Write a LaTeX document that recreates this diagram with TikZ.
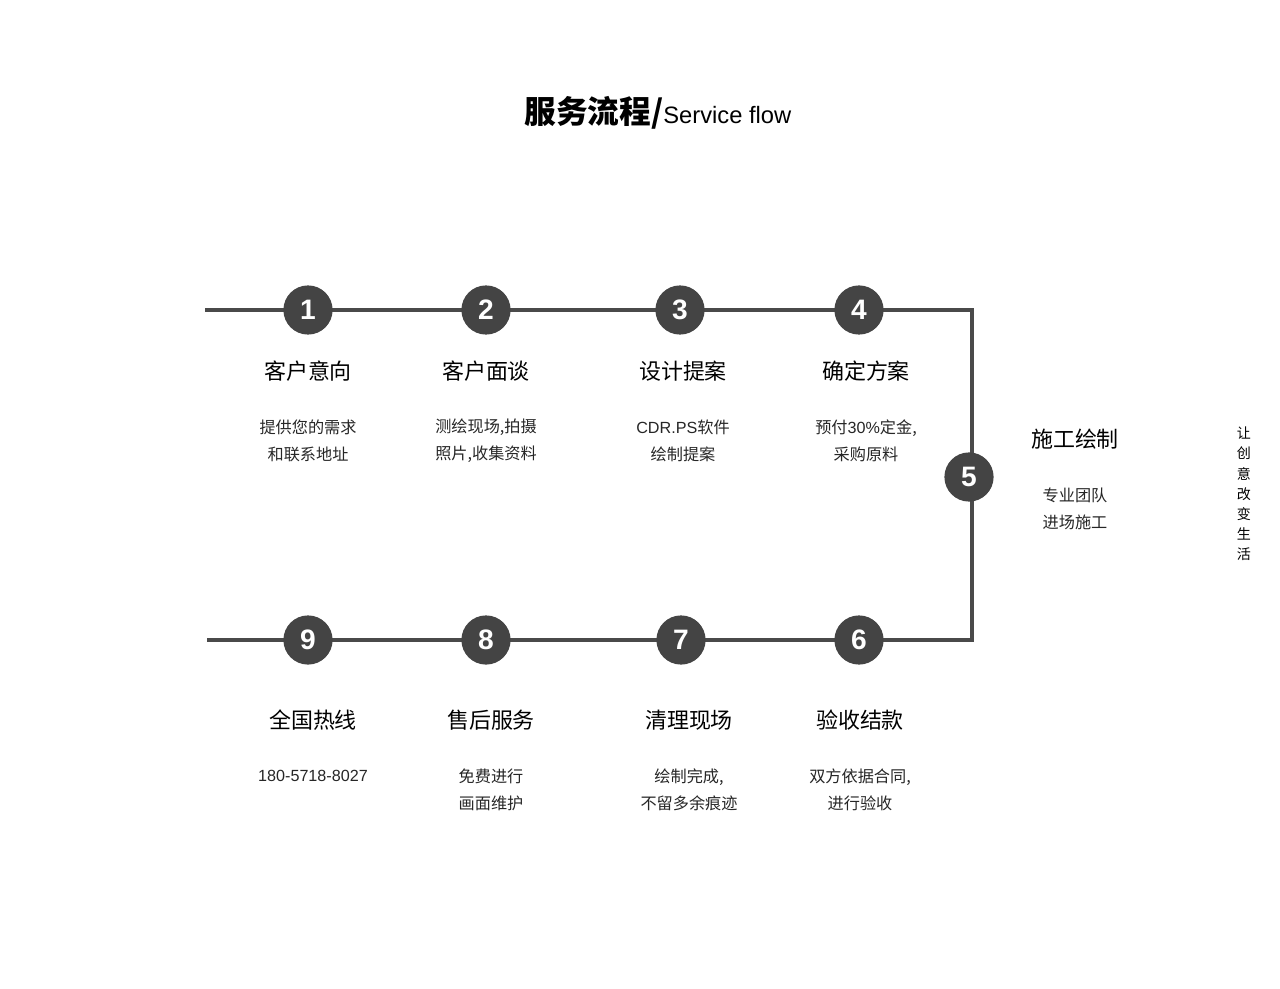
\documentclass[tikz,border=0pt]{standalone}
\usepackage{fontspec}
\setmainfont{Noto Sans CJK SC}
\newfontfamily\latinsans{Liberation Sans}
\usetikzlibrary{positioning}
\definecolor{flowgray}{HTML}{4A4A4A}
\definecolor{dotgray}{HTML}{444444}
\tikzset{
  flowstep/.style={circle, fill=dotgray, minimum size=28pt, inner sep=0pt,
    text=white, font=\latinsans\bfseries\fontsize{16}{16}\selectfont},
  steptitle/.style={font=\fontsize{12.5}{14}\selectfont, text=black},
  stepnote/.style={font=\fontsize{9.2}{15.6}\selectfont, text=black!85, align=center},
  flowline/.style={draw=flowgray, line width=2.3pt}
}
\begin{document}
\begin{tikzpicture}[x=0.02cm, y=-0.02cm]
\useasboundingbox (0,0) rectangle (1280,989);

%Title
\node (title) at (658,113) {\bfseries\fontsize{18}{20}\selectfont 服务流程/\mdseries\latinsans\fontsize{13.5}{16}\selectfont Service flow};

%Flow path
\coordinate (topstart) at (205,310);
\coordinate (topcorner) at (972,310);
\coordinate (botcorner) at (972,640);
\coordinate (botstart) at (207,640);
\draw [flowline] (topstart) -- (topcorner) -- (botcorner) -- (botstart);

%Steps
\foreach \n/\x/\y in {1/308/310,2/486/310,3/680/310,4/859/310,5/969/477,6/859/640,7/681/640,8/486/640,9/308/640}
  \node [flowstep] (s\n) at (\x,\y) {\n};

%Step titles
\foreach \n/\x/\y/\t in {1/308/371/客户意向,2/486/371/客户面谈,3/683/371/设计提案,4/866/371/确定方案,
  5/1075/439/施工绘制,6/860/720/验收结款,7/689/720/清理现场,8/491/720/售后服务,9/313/720/全国热线}
  \node [steptitle] (t\n) at (\x,\y) {\t};

%Step notes
\node [stepnote] (n1) at (308,441) {提供您的需求\\和联系地址};
\node [stepnote] (n2) at (486,441) {测绘现场,拍摄\\照片,收集资料};
\node [stepnote] (n3) at (683,441) {{\latinsans CDR.PS}软件\\绘制提案};
\node [stepnote] (n4) at (866,441) {预付{\latinsans 30\%}定金,\\采购原料};
\node [stepnote] (n5) at (1075,509) {专业团队\\进场施工};
\node [stepnote] (n6) at (860,790) {双方依据合同,\\进行验收};
\node [stepnote] (n7) at (689,790) {绘制完成,\\不留多余痕迹};
\node [stepnote] (n8) at (491,790) {免费进行\\画面维护};
\node [stepnote, font=\latinsans\fontsize{9.2}{15.6}\selectfont] (n9) at (313,776) {180-5718-8027};

%Side slogan
\node [font=\fontsize{8}{11.5}\selectfont, align=center] (slogan) at (1244,494) {让\\创\\意\\改\\变\\生\\活};
\end{tikzpicture}
\end{document}
